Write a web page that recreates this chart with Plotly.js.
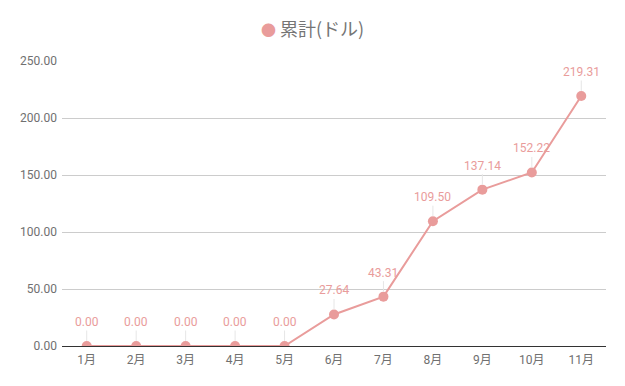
<!DOCTYPE html>
<html><head><meta charset="utf-8">
<script src="https://cdn.plot.ly/plotly-3.0.1.min.js"></script>
<style>body{margin:0}#c{width:625px;height:386px}</style>
</head><body><div id="c"></div>
<script>
const months = ['1月','2月','3月','4月','5月','6月','7月','8月','9月','10月','11月'];
const cumulative = [0, 0, 0, 0, 0, 27.64, 43.31, 109.50, 137.14, 152.22, 219.31];
const seriesName = '累計(ドル)';
const pink = '#e99c9b';

const annotations = months.map((m, i) => ({
  x: m, y: cumulative[i], xref: 'x', yref: 'y',
  text: cumulative[i].toFixed(2), showarrow: true, arrowhead: 0, arrowwidth: 1,
  arrowcolor: '#e6e6e6', ax: 0, ay: -24, standoff: 5,
  font: {family: 'Roboto, sans-serif', size: 12, color: pink}
}));

Plotly.newPlot('c', [{
  x: months, y: cumulative, type: 'scatter', mode: 'lines+markers', name: seriesName,
  line: {color: pink, width: 2}, marker: {color: pink, size: 10}, cliponaxis: true,
  showlegend: false, hoverinfo: 'none'
}], {
  width: 625, height: 386,
  margin: {l: 62, r: 19, t: 61, b: 40},
  paper_bgcolor: '#fff', plot_bgcolor: '#fff',
  title: {text: '<span style="color:' + pink + ';font-size:15px">●</span> ' + seriesName,
    x: 0.5, xanchor: 'center', y: 0.922, yanchor: 'middle',
    font: {family: '"Noto Sans CJK JP", sans-serif', size: 18, color: '#757575'}},
  xaxis: {type: 'category', range: [-0.5, 10.5], showgrid: false, zeroline: false,
    showline: false, ticks: '', ticklabelstandoff: 5,
    tickfont: {family: 'Roboto, "Noto Sans CJK JP", sans-serif', size: 12, color: '#707070'}},
  yaxis: {range: [0, 250], dtick: 50, tickformat: '.2f', gridcolor: '#cccccc',
    zeroline: true, zerolinecolor: '#333', zerolinewidth: 1, ticks: '', ticklabelstandoff: 4,
    tickfont: {family: 'Roboto, sans-serif', size: 12, color: '#707070'}, fixedrange: true},
  annotations: annotations
}, {displayModeBar: false, staticPlot: true});
</script></body></html>
